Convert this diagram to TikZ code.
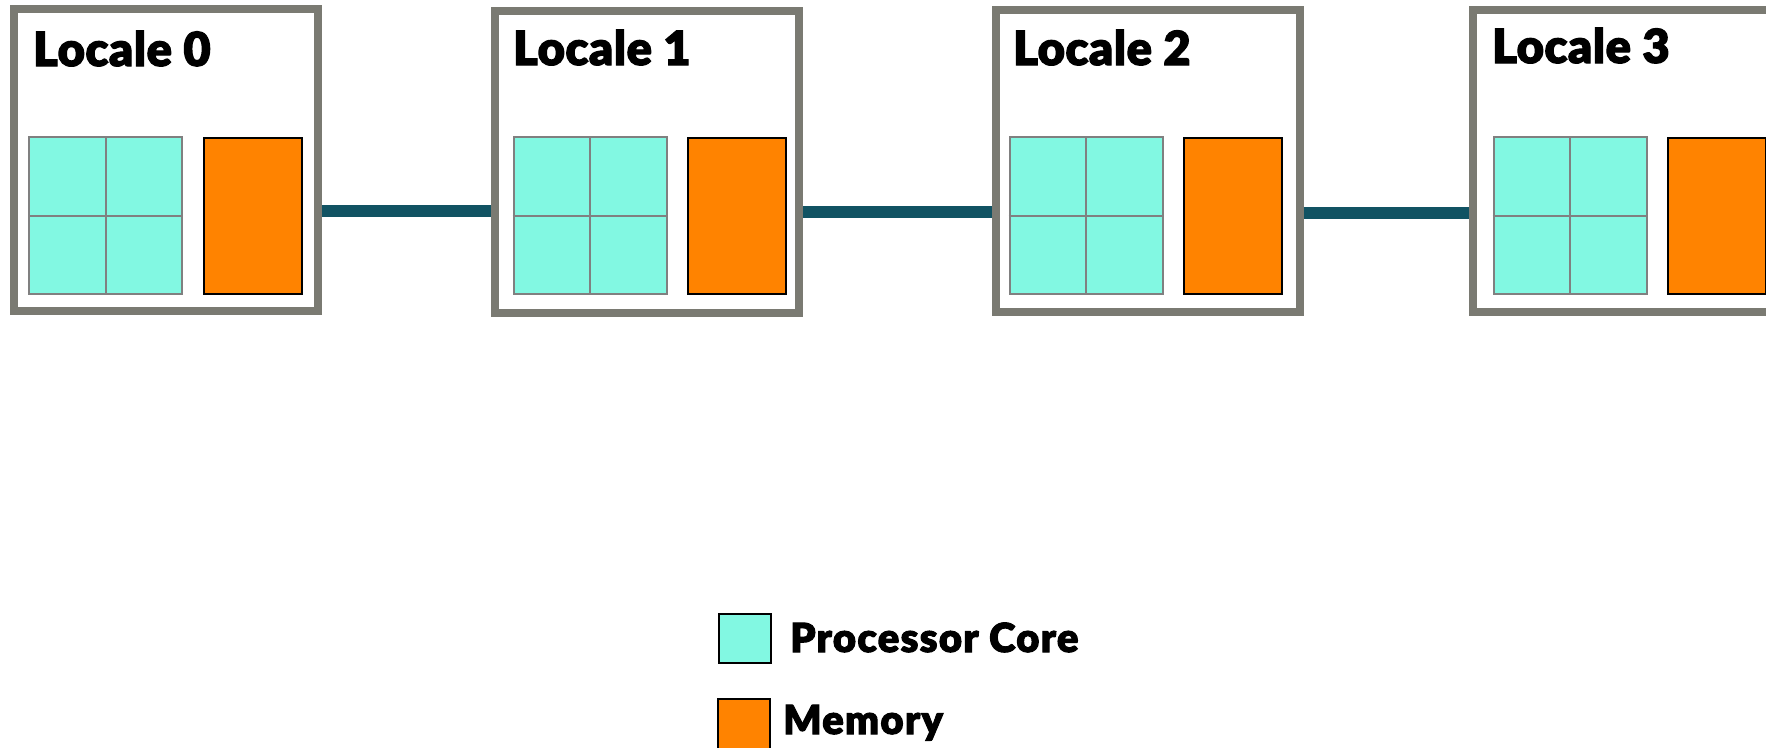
\documentclass[tikz,border=0pt]{standalone}
\usepackage{fontspec}
\setmainfont{Lato}[BoldFont={Lato Black}]
\definecolor{boxgray}{HTML}{7A7A72}
\definecolor{corefill}{HTML}{82F8E2}
\definecolor{coreline}{HTML}{808080}
\definecolor{memfill}{HTML}{FF8300}
\definecolor{linkcol}{HTML}{115363}
\tikzset{
  localebox/.style={draw=boxgray, line width=8pt, fill=white, inner sep=0pt, minimum width=304pt, minimum height=302pt},
  coreblock/.style={draw=coreline, line width=2pt, fill=corefill, inner sep=0pt, minimum width=153pt, minimum height=157pt},
  gridline/.style={draw=coreline, line width=2pt},
  memblock/.style={draw=black, line width=2pt, fill=memfill, inner sep=0pt, minimum width=98pt, minimum height=156pt},
  locname/.style={anchor=base west, inner sep=0pt, font=\fontsize{47}{50}\selectfont\bfseries\addfontfeatures{FakeBold=2.5,LetterSpace=1.2}},
  legtext/.style={anchor=base west, inner sep=0pt, font=\fontsize{40}{44}\selectfont\bfseries\addfontfeatures{FakeBold=2.5,LetterSpace=3.2}},
  link/.style={draw=linkcol, line width=12pt},
  legcore/.style={draw=black, line width=2pt, fill=corefill, inner sep=0pt, minimum width=52pt, minimum height=49pt},
  legmem/.style={draw=black, line width=2pt, fill=memfill, inner sep=0pt, minimum width=52pt, minimum height=52pt}
}
\begin{document}
\begin{tikzpicture}[x=1pt,y=-1pt]
\useasboundingbox (0,0) rectangle (1766,747);
\clip (0,0) rectangle (1766,747);
% locale boxes
\node[localebox] (L0) at (166,159.5) {};
\node[localebox] (L1) at (647,161.5) {};
\node[localebox] (L2) at (1147.5,161) {};
\node[localebox] (L3) at (1625,161) {};
% connectors
\draw[link] ([yshift=-51.5pt]L0.east) -- ([yshift=-49.5pt]L1.west);
\draw[link] ([yshift=-50.5pt]L1.east) -- ([yshift=-51pt]L2.west);
\draw[link] ([yshift=-52pt]L2.east) -- ([yshift=-52pt]L3.west);
% labels
\node[locname] (T0) at (33,66) {Locale 0};
\node[locname] (T1) at (513,65) {Locale 1};
\node[locname] (T2) at (1013,65) {Locale 2};
\node[locname] (T3) at (1492,63) {Locale 3};
% cores
\foreach \i/\x in {0/105.5, 1/590, 2/1086, 3/1570} {
  \node[coreblock] (C\i) at (\x,215.5) {};
  \draw[gridline] (C\i.north) -- (C\i.south);
  \draw[gridline] (C\i.west) -- (C\i.east);
}
% memory
\node[memblock] (M0) at (253,216) {};
\node[memblock] (M1) at (737,216) {};
\node[memblock] (M2) at (1233,216) {};
\node[memblock] (M3) at (1717,216) {};
% legend
\node[legcore] (K1) at (744.5,638) {};
\node[legtext] (K1t) at (790,652) {Processor Core};
\node[legmem] (K2) at (744,725) {};
\node[legtext] (K2t) at (783,734) {Memory};
\end{tikzpicture}
\end{document}
